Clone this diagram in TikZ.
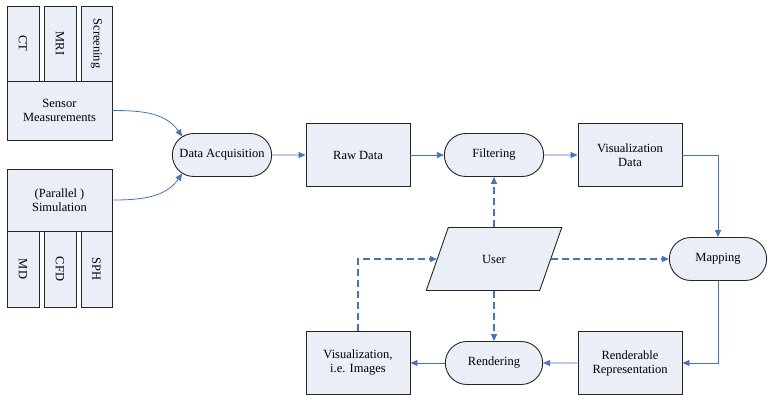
\documentclass[tikz,border=0pt]{standalone}
\usepackage{fontspec}
\setmainfont{Liberation Serif}
\usetikzlibrary{arrows.meta, shapes.geometric, shapes.misc}
\definecolor{boxfill}{HTML}{E9EEF7}
\definecolor{flowblue}{HTML}{4472C4}

\tikzset{
  box/.style={draw=black!85, fill=boxfill, line width=0.9pt, align=center,
    inner sep=2pt, minimum width=104pt, minimum height=63pt},
  tallbox/.style={box, minimum width=32pt, minimum height=75pt},
  proc/.style={rounded rectangle, draw=black!85, fill=boxfill, line width=0.9pt,
    minimum width=106pt, minimum height=43pt},
  flow/.style={flowblue, line width=0.8pt, -{Triangle[length=7pt,width=6pt]}},
  userflow/.style={flow, line width=1.6pt, dash pattern=on 7pt off 4pt},
}

\begin{document}
\begin{tikzpicture}[x=1pt, y=-1pt, font=\fontsize{12.5}{14}\selectfont]
  \useasboundingbox (0,0) rectangle (769,394);

  % Sensoren
  \node[tallbox] (ct) at (23,43.5) {\rotatebox{-90}{CT}};
  \node[tallbox] (mri) at (60,43.5) {\rotatebox{-90}{MRI}};
  \node[tallbox, minimum width=31pt] (screen) at (96.5,43.5) {\rotatebox{-90}{Screening}};
  \node[box, minimum width=105pt, minimum height=59pt] (sensor) at (59.5,110.5) {Sensor\\Measurements};

  % Simulation
  \node[box, minimum width=105pt, minimum height=62pt] (sim) at (59.5,200) {(Parallel )\\Simulation};
  \node[tallbox, minimum height=76pt] (md) at (23,269) {\rotatebox{-90}{MD}};
  \node[tallbox, minimum height=76pt] (cfd) at (60,269) {\rotatebox{-90}{CFD}};
  \node[tallbox, minimum width=31pt, minimum height=76pt] (sph) at (96.5,269) {\rotatebox{-90}{SPH}};

  % Pipeline
  \node[proc] (acq) at (222,155) {Data Acquisition};
  \node[box] (raw) at (358,155) {Raw Data};
  \node[proc] (filt) at (494,155) {Filtering};
  \node[box] (visdata) at (630,155) {Visualization\\Data};
  \node[proc, minimum width=104pt] (mapping) at (718,259) {Mapping};
  \node[box] (renderrep) at (630,363) {Renderable\\Representation};
  \node[proc, minimum width=104pt] (render) at (494,363) {Rendering};
  \node[box] (images) at (358,363) {Visualization,\\i.e. Images};
  \node[trapezium, trapezium left angle=64, trapezium right angle=116,
    trapezium stretches=true, draw=black!85, fill=boxfill, line width=0.9pt,
    minimum width=136pt, minimum height=63pt] (user) at (494,259) {User};

  % Datenfluss
  \draw[flow] (sensor.east) to[out=0, in=125] (acq.155);
  \draw[flow] (sim.east) to[out=0, in=-125] (acq.205);
  \draw[flow] (acq) -- (raw);
  \draw[flow] (raw) -- (filt);
  \draw[flow] (filt) -- (visdata);
  \draw[flow] (visdata.east) -| (mapping.north);
  \draw[flow] (mapping.south) |- (renderrep.east);
  \draw[flow] (renderrep) -- (render);
  \draw[flow] (render) -- (images);

  % Interaktion
  \draw[userflow] (user) -- (filt);
  \draw[userflow] (user) -- (mapping);
  \draw[userflow] (user) -- (render);
  \draw[userflow] (images.north) |- (user);
\end{tikzpicture}
\end{document}
